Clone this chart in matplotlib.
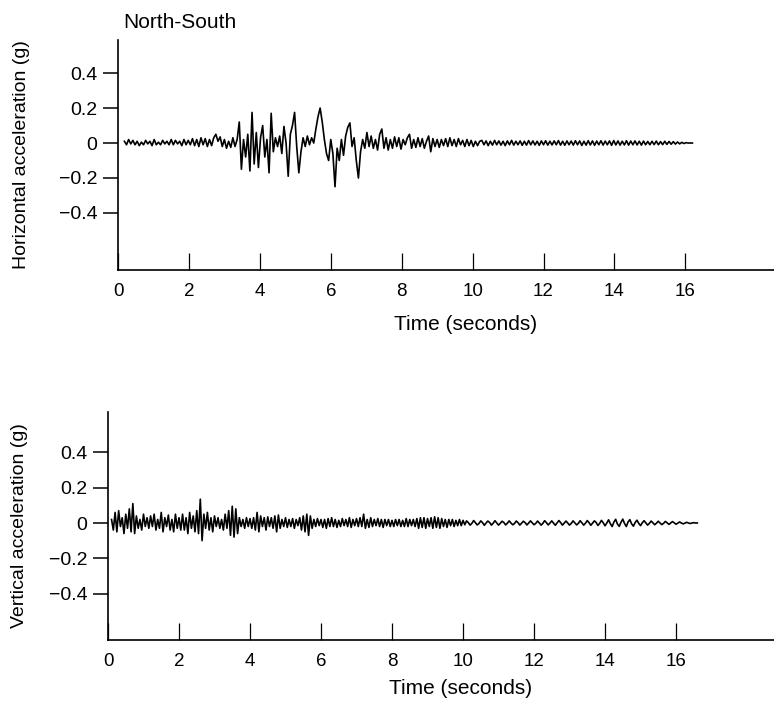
import numpy as np
import matplotlib
matplotlib.use("Agg")
import matplotlib.pyplot as plt

plt.rcParams['font.family'] = ['Liberation Sans', 'DejaVu Sans']

# ---- data (g) ----
# North-South component, one sample every 0.06 s starting at 0.18 s
ns_t0, ns_dt = 0.18, 0.06
ns_acc = [
    # 0.18 - 2.64 s, quiet start
    0.01, -0.01, 0.02, -0.005, 0.015, -0.01, 0.01, -0.015, 0.005, -0.01,
    0.015, -0.005, 0.01, -0.015, 0.02, -0.01, 0.005, -0.01, 0.015, -0.005,
    0.01, -0.01, 0.02, -0.01, 0.015, -0.005, 0.01, -0.015, 0.02, -0.01,
    0.015, -0.01, 0.025, -0.015, 0.02, -0.02, 0.03, -0.01, 0.025, -0.02,
    0.02, -0.015,
    # 2.70 - 3.36 s
    0.03, 0.05, 0.01, 0.035, -0.02, 0.02, -0.03, 0.01, -0.025, 0.03,
    -0.02, 0.02,
    # 3.42 - 7.02 s, strong motion
    0.12, -0.15, 0.02, -0.08, 0.05, -0.16, 0.175, -0.12, 0.06, -0.14,
    0.03, 0.10, -0.08, 0.02, -0.17, 0.17, -0.05, 0.03, -0.02, 0.04,
    -0.06, 0.095, 0.0, -0.19, 0.05, 0.10, 0.175, -0.02, -0.17, -0.05,
    0.03, -0.02, 0.04, -0.01, 0.03, 0.0, 0.08, 0.15, 0.20, 0.12,
    0.02, -0.06, -0.10, 0.02, -0.06, -0.25, -0.03, -0.10, 0.02, -0.07,
    0.04, 0.09, 0.115, -0.02, 0.03, -0.10, -0.20, -0.05, 0.02, -0.03,
    0.06,
    # 7.08 - 10.20 s
    -0.02, 0.04, -0.03, 0.02, -0.04, 0.05, 0.08, -0.03, 0.03, -0.04,
    0.02, -0.03, 0.035, -0.02, 0.03, -0.035, 0.02, -0.01, 0.03, 0.05,
    -0.03, 0.02, -0.025, 0.03, -0.02, 0.025, -0.03, 0.01, 0.04, -0.05,
    0.025, -0.02, 0.02, -0.025, 0.02, -0.015, 0.025, -0.02, 0.03, -0.015,
    0.02, -0.02, 0.025, -0.01, 0.015, -0.02, 0.02, -0.015, 0.015, -0.02,
    0.01, -0.015, 0.01,
    # 10.26 s - end
    0.015, -0.01, 0.012, -0.015, 0.01, -0.012, 0.015, -0.01, 0.012, -0.012,
    0.01, -0.015, 0.012, -0.01, 0.015, -0.012, 0.01, -0.01, 0.012, -0.013,
    0.01, -0.012, 0.014, -0.01, 0.012, -0.011, 0.01, -0.013, 0.012, -0.01,
    0.013, -0.012, 0.01, -0.011, 0.012, -0.01, 0.014, -0.012, 0.01, -0.013,
    0.012, -0.01, 0.011, -0.012, 0.013, -0.01, 0.012, -0.014, 0.01, -0.012,
    0.013, -0.011, 0.012, -0.013, 0.011, -0.01, 0.013, -0.012, 0.011, -0.01,
    0.012, -0.013, 0.014, -0.011, 0.012, -0.012, 0.01, -0.011, 0.013, -0.012,
    0.011, -0.01, 0.012, -0.011, 0.01, -0.012, 0.011, -0.01, 0.009, -0.01,
    0.01, -0.009, 0.011, -0.01, 0.008, -0.009, 0.01, -0.008, 0.009, -0.007,
    0.008, -0.006, 0.006, -0.005, 0.004, -0.003, 0.002, 0.0, 0.0, 0.0,
]

# Vertical component, one sample every 0.05 s starting at 0.10 s
v_t0, v_dt = 0.10, 0.05
v_acc = [
    0.02, -0.04, 0.06, -0.05, 0.07, -0.02, 0.03, -0.06, 0.05, -0.03,
    0.08, -0.05, 0.11, -0.06, 0.04, -0.03, 0.02, -0.04, 0.05, -0.02,
    0.03, -0.03, 0.04, -0.02, 0.05, -0.04, 0.02, -0.03, 0.06, -0.05,
    0.03, -0.02, 0.045, -0.04, 0.02, -0.05, 0.05, -0.03, 0.03, -0.04,
    0.05, -0.04, 0.03, -0.06, 0.06, -0.03, 0.04, -0.05, 0.07, -0.06,
    0.135, -0.10, 0.05, -0.03, 0.06, -0.04, 0.03, -0.05, 0.04, -0.02,
    0.03, -0.03, 0.02, -0.04, 0.05, -0.03, 0.07, -0.07, 0.095, -0.08,
    0.08, -0.06, 0.03, -0.02, 0.02, -0.03, 0.03, -0.02, 0.025, -0.03,
    0.03, -0.04, 0.06, -0.05, 0.04, -0.02, 0.03, -0.04, 0.035, -0.02,
    0.03, -0.03, 0.04, -0.05, 0.045, -0.03, 0.02, -0.02, 0.03, -0.025,
    0.02, -0.02, 0.025, -0.03, 0.02, -0.015, 0.03, -0.04, 0.04, -0.05,
    0.05, -0.07, 0.04, -0.03, 0.02, -0.02, 0.025, -0.015, 0.02, -0.025,
    0.02, -0.03, 0.025, -0.02, 0.03, -0.02, 0.02, -0.025, 0.015, -0.02,
    0.025, -0.015, 0.02, -0.02, 0.03, -0.025, 0.02, -0.015, 0.025, -0.02,
    0.03, -0.02, 0.05, -0.03, 0.02, -0.025, 0.03, -0.02, 0.02, -0.015,
    0.025, -0.02, 0.02, -0.025, 0.02, -0.015, 0.02, -0.02, 0.015, -0.02,
    0.02, -0.015, 0.02, -0.02, 0.015, -0.02, 0.025, -0.02, 0.02, -0.015,
    0.02, -0.02, 0.025, -0.03, 0.03, -0.025, 0.03, -0.03, 0.025, -0.02,
    0.03, -0.03, 0.035, -0.025, 0.03, -0.03, 0.025, -0.02, 0.02, -0.025,
    0.02, -0.015, 0.02, -0.02, 0.015, -0.015, 0.02, -0.015, 0.015, -0.01,
    # 10.1 s - end, slower ripple
    0.012, 0.002, -0.012, -0.002, 0.014, 0.001, -0.011, -0.003, 0.012, 0.002,
    -0.013, 0.0, 0.011, 0.003, -0.012, -0.001, 0.013, 0.0, -0.012, -0.002,
    0.01, 0.003, -0.011, -0.001, 0.012, 0.0, -0.01, -0.003, 0.011, 0.002,
    -0.012, -0.001, 0.01, 0.002, -0.011, 0.0, 0.012, 0.001, -0.01, -0.002,
    0.011, 0.0, -0.012, -0.002, 0.013, 0.002, -0.011, 0.0, 0.012, -0.001,
    -0.013, 0.001, 0.014, 0.002, -0.012, -0.001, 0.011, 0.0, -0.012, -0.002,
    0.012, 0.001, -0.011, -0.002, 0.013, 0.0, -0.012, -0.001, 0.014, 0.002,
    -0.013, 0.0, 0.012, 0.003, -0.014, -0.002, 0.015, 0.001, -0.016, 0.0,
    0.018, -0.004, -0.02, 0.005, 0.021, -0.006, -0.019, 0.004, 0.022, -0.003,
    -0.02, 0.006, 0.019, -0.005, -0.018, 0.003, 0.016, -0.002, -0.015, 0.001,
    0.013, 0.0, -0.012, -0.002, 0.011, 0.001, -0.01, -0.001, 0.01, 0.0,
    -0.009, -0.002, 0.009, 0.001, -0.008, 0.0, 0.008, 0.001, -0.007, -0.001,
    0.006, 0.0, -0.005, -0.001, 0.004, 0.0, -0.003, 0.0, 0.002, 0.0, 0.0,
]

time_ticks = [0, 2, 4, 6, 8, 10, 12, 14, 16]
acc_ticks = [0.4, 0.2, 0, -0.2, -0.4]
acc_labels = ['0.4', '0.2', '0', '\u22120.2', '\u22120.4']

ns_t = ns_t0 + ns_dt * np.arange(len(ns_acc))
v_t = v_t0 + v_dt * np.arange(len(v_acc))

W, H = 774, 710
fig = plt.figure(figsize=(W / 100, H / 100), dpi=100)

# axes placed in pixel terms of the original page
ax1 = fig.add_axes([118 / W, (H - 270) / H, (W - 118) / W, (270 - 40) / H])
ax2 = fig.add_axes([108 / W, (H - 640) / H, (W - 108) / W, (640 - 412) / H])


def style(ax, xmax, ymin, ymax, ylabel, ylab_x):
    ax.set_xlim(0, xmax)
    ax.set_ylim(ymin, ymax)
    for s in ['top', 'right']:
        ax.spines[s].set_visible(False)
    for s in ['left', 'bottom']:
        ax.spines[s].set_linewidth(1.2)
    ax.set_xticks(time_ticks)
    ax.set_xticklabels([str(v) for v in time_ticks])
    ax.set_yticks(acc_ticks)
    ax.set_yticklabels(acc_labels)
    ax.tick_params(axis='x', direction='in', length=12, width=0.9,
                   pad=9, labelsize=13.5)
    ax.tick_params(axis='y', direction='out', length=11, width=1.1,
                   pad=4, labelsize=14)
    ax.set_xlabel('Time (seconds)', fontsize=15)
    ax.set_ylabel(ylabel, fontsize=14)
    ax.yaxis.set_label_coords(ylab_x, 0.5)


ax1.plot(ns_t, ns_acc, color='black', lw=1.2)
style(ax1, 18.5, -0.726, 0.589, 'Horizontal acceleration (g)', -0.134)
ax1.xaxis.set_label_coords(0.53, -0.195)

ax2.plot(v_t, v_acc, color='black', lw=1.2)
style(ax2, 18.76, -0.663, 0.629, 'Vertical acceleration (g)', -0.12)
ax2.xaxis.set_label_coords(0.53, -0.17)

fig.text(123 / W, 1 - 22 / H, 'North-South', fontsize=15, ha='left', va='center')

plt.savefig('out.png', dpi=100)
